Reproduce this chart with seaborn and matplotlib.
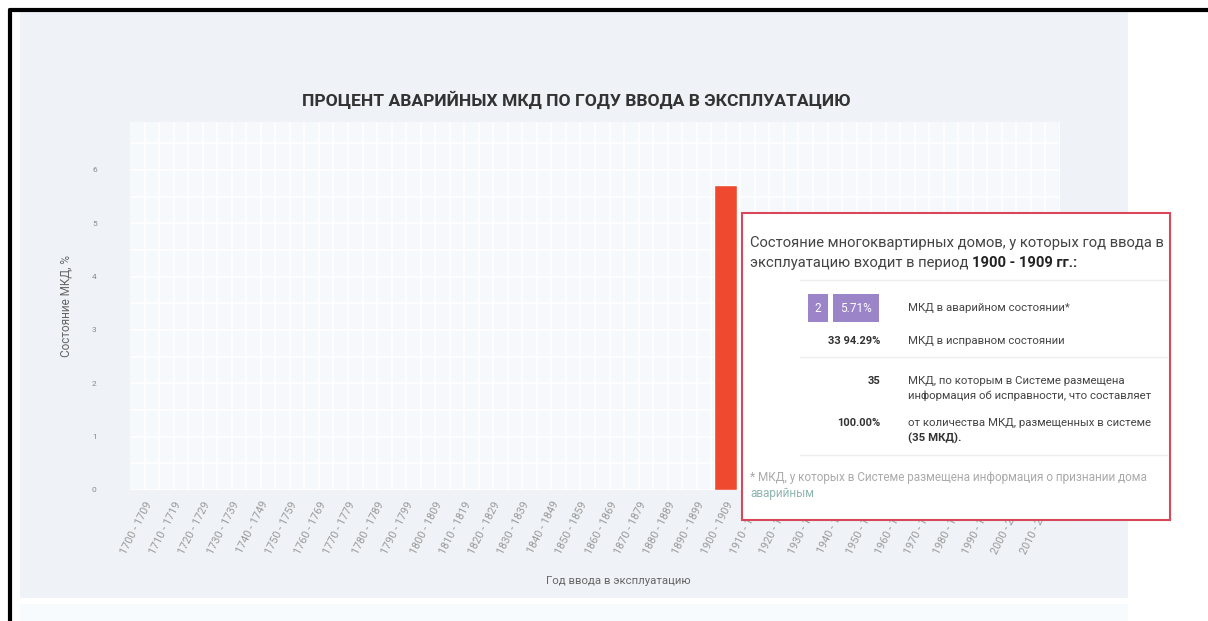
import matplotlib
matplotlib.use('Agg')
import matplotlib.pyplot as plt
import seaborn as sns
import pandas as pd
from matplotlib.patches import Rectangle
from matplotlib.lines import Line2D

# chart data
decades = ["1700 - 1709", "1710 - 1719", "1720 - 1729", "1730 - 1739", "1740 - 1749",
           "1750 - 1759", "1760 - 1769", "1770 - 1779", "1780 - 1789", "1790 - 1799",
           "1800 - 1809", "1810 - 1819", "1820 - 1829", "1830 - 1839", "1840 - 1849",
           "1850 - 1859", "1860 - 1869", "1870 - 1879", "1880 - 1889", "1890 - 1899",
           "1900 - 1909", "1910 - 1919", "1920 - 1929", "1930 - 1939", "1940 - 1949",
           "1950 - 1959", "1960 - 1969", "1970 - 1979", "1980 - 1989", "1990 - 1999",
           "2000 - 2009", "2010 - 2019"]
emergency_pct = [0, 0, 0, 0, 0, 0, 0, 0, 0, 0,
                 0, 0, 0, 0, 0, 0, 0, 0, 0, 0,
                 5.71, 0, 0, 0, 0, 0, 0, 0, 0, 0,
                 0, 0]
y_ticks = [0, 1, 2, 3, 4, 5, 6]

# tooltip content
tip_period = "1900 - 1909 гг."
tip_emergency = ["2", "5.71%"]
tip_ok = "33 94.29%"
tip_total = "35"
tip_share = "100.00%"

df = pd.DataFrame({"decade": decades, "pct": emergency_pct})

sns.set_theme(style="white")
plt.rcParams['font.family'] = ['Roboto', 'DejaVu Sans']

W, H = 1208, 621
fig = plt.figure(figsize=(W / 100, H / 100), dpi=100)
fig.patch.set_facecolor('white')


def fx(px):
    return px / W


def fy(py):
    return 1 - py / H


# page panel + black frame (behind the axes)
fig.patches.append(Rectangle((fx(20), fy(598)), fx(1128) - fx(20), fy(12) - fy(598),
                             transform=fig.transFigure, facecolor='#eff3f7', edgecolor='none', zorder=-2))
fig.patches.append(Rectangle((fx(20), fy(621)), fx(1128) - fx(20), fy(604) - fy(621),
                             transform=fig.transFigure, facecolor='#f7fbfd', edgecolor='none', zorder=-2))
fig.lines.append(Line2D([fx(10), 1], [fy(10), fy(10)], transform=fig.transFigure, color='black', lw=3))
fig.lines.append(Line2D([fx(10), fx(10)], [fy(10), 0], transform=fig.transFigure, color='black', lw=3))

ax = fig.add_axes([fx(130), fy(490), fx(1060) - fx(130), fy(122) - fy(490)])
ax.set_facecolor('#f6f9fc')

sns.barplot(data=df, x="decade", y="pct", color='#ef4a2f', width=0.8, saturation=1, ax=ax, zorder=3)

ax.set_xlim(-0.5, len(decades) - 0.5)
ax.set_ylim(0, 6.9)
ax.set_yticks(y_ticks)
ax.set_yticks([v + 0.5 for v in y_ticks], minor=True)
ax.set_xticks([i + 0.5 for i in range(len(decades))], minor=True)
ax.grid(True, which='both', color='white', lw=1.2, zorder=0)
ax.set_axisbelow(True)
for s in ax.spines.values():
    s.set_visible(False)

ax.tick_params(axis='y', which='major', length=0, pad=24, labelsize=6, labelcolor='#888888')
ax.tick_params(axis='both', which='minor', length=0)
ax.tick_params(axis='x', which='major', length=0, pad=7, labelsize=7.8, labelcolor='#9a9a9a')
ax.set_xticks(range(len(decades)))
ax.set_xticklabels(decades, rotation=63, ha='right', rotation_mode='anchor')

ax.set_xlabel("Год ввода в эксплуатацию", fontsize=8.2, color='#666666')
ax.xaxis.set_label_coords((618 - 130) / 930, -0.235)
ax.set_ylabel("Состояние МКД, %", fontsize=8.5, color='#666666', labelpad=14)

fig.text(fx(576), fy(100), "ПРОЦЕНТ АВАРИЙНЫХ МКД ПО ГОДУ ВВОДА В ЭКСПЛУАТАЦИЮ",
         ha='center', va='center', fontsize=12.6, fontweight='bold', color='#333333')

# tooltip box
fig.patches.append(Rectangle((fx(742), fy(520)), fx(1170) - fx(742), fy(213) - fy(520),
                             transform=fig.transFigure, facecolor='white', edgecolor='#d9485a',
                             lw=1.5, zorder=10))
for yy in [280, 357, 455]:
    fig.lines.append(Line2D([fx(800), fx(1168)], [fy(yy), fy(yy)], transform=fig.transFigure,
                            color='#eeeeee', lw=1, zorder=11))

tc = '#444444'
fig.text(fx(750), fy(243), "Состояние многоквартирных домов, у которых год ввода в",
         fontsize=10.6, color=tc, va='center', zorder=12)
t1 = fig.text(fx(750), fy(263), "эксплуатацию входит в период ", fontsize=10.6, color=tc,
              va='center', zorder=12)
fig.canvas.draw()
bb = t1.get_window_extent()
fig.text(fx(750 + bb.width), fy(263), tip_period + ":", fontsize=10.6, color='#222222',
         fontweight='bold', va='center', zorder=12)

fig.text(fx(818), fy(308), tip_emergency[0], fontsize=8.5, color='white', ha='center', va='center', zorder=12,
         bbox=dict(boxstyle='square,pad=0.6', facecolor='#9c84c8', edgecolor='none'))
fig.text(fx(856), fy(308), tip_emergency[1], fontsize=8.5, color='white', ha='center', va='center', zorder=12,
         bbox=dict(boxstyle='square,pad=0.6', facecolor='#9c84c8', edgecolor='none'))
fig.text(fx(908), fy(308), "МКД в аварийном состоянии*", fontsize=8.2, color=tc, va='center', zorder=12)

fig.text(fx(880), fy(341), tip_ok, fontsize=8, color='#333333', fontweight='bold', ha='right', va='center', zorder=12)
fig.text(fx(908), fy(341), "МКД в исправном состоянии", fontsize=8.2, color=tc, va='center', zorder=12)

fig.text(fx(880), fy(381), tip_total, fontsize=8, color='#333333', fontweight='bold', ha='right', va='center', zorder=12)
fig.text(fx(908), fy(381), "МКД, по которым в Системе размещена", fontsize=8.2, color=tc, va='center', zorder=12)
fig.text(fx(908), fy(396), "информация об исправности, что составляет", fontsize=8.2, color=tc, va='center', zorder=12)

fig.text(fx(880), fy(423), tip_share, fontsize=8, color='#333333', fontweight='bold', ha='right', va='center', zorder=12)
fig.text(fx(908), fy(423), "от количества МКД, размещенных в системе", fontsize=8.2, color=tc, va='center', zorder=12)
fig.text(fx(908), fy(438), "(35 МКД).", fontsize=8.2, color='#333333', fontweight='bold', va='center', zorder=12)

fig.text(fx(750), fy(477), "* МКД, у которых в Системе размещена информация о признании дома",
         fontsize=8.5, color='#aaaaaa', va='center', zorder=12)
fig.text(fx(750), fy(494), "аварийным", fontsize=8.5, color='#8fb5b0', va='center', zorder=12)

fig.savefig("out.png", dpi=100, facecolor=fig.get_facecolor())
